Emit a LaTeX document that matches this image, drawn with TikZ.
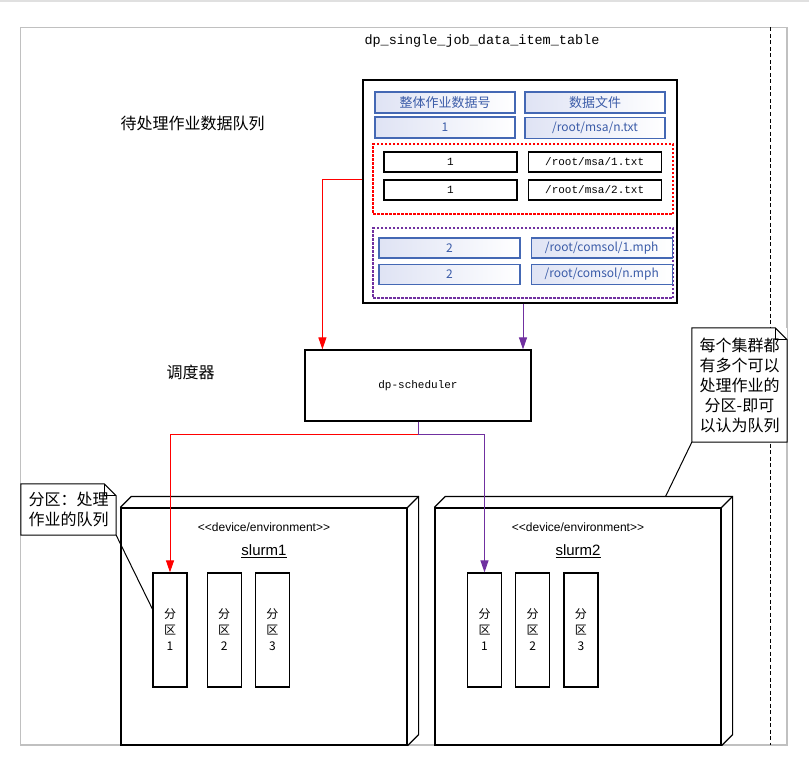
\documentclass[tikz,border=0pt]{standalone}
\usepackage{fontspec}
\setmainfont{Noto Sans CJK SC}
\setmonofont{Liberation Mono}
\newfontfamily\devfont{Liberation Sans}
\usetikzlibrary{arrows.meta,positioning}

\definecolor{cellblue}{HTML}{4468B4}
\definecolor{celltext}{HTML}{3A5BA8}
\definecolor{cellshade}{HTML}{DFE3F4}
\definecolor{jobred}{HTML}{FF0000}
\definecolor{jobpurple}{HTML}{7030A0}
\definecolor{framegray}{HTML}{C0C0C0}

\begin{document}
\begin{tikzpicture}[
		x=1pt, y=-1pt,
		node distance=13pt,
		freetext/.style={font=\fontsize{16}{20}\selectfont},
		headcell/.style={draw=cellblue, line width=1.2pt, left color=cellshade, right color=white, text=celltext, inner sep=0pt, minimum width=140pt, minimum height=21pt, font=\fontsize{12}{15}\selectfont},
		itemcell/.style={draw, line width=1.2pt, fill=white, inner sep=0pt, minimum width=133pt, minimum height=20pt, font=\ttfamily\fontsize{11}{13}\selectfont},
		group/.style={draw, line width=1.1pt, dash pattern=on 2.5pt off 1.5pt, inner sep=0pt, minimum width=300pt, minimum height=70pt},
		block/.style={draw, line width=1.2pt, inner sep=0pt},
		slurmbox/.style={draw, line width=1.2pt, inner sep=0pt, minimum width=286pt, minimum height=237pt},
		partition/.style={draw, line width=1.2pt, inner sep=0pt, minimum width=34pt, minimum height=114pt, align=center, font=\fontsize{12}{16}\selectfont},
		note/.style={fill=white, inner sep=0pt, font=\fontsize{16}{20}\selectfont},
		flow/.style={line width=1pt, -{Triangle[length=12pt,width=8pt]}},
	]
		\useasboundingbox (0,0) rectangle (809,768);
		\fill[black!12] (0,0) rectangle (809,2.5);
		\draw[framegray, line width=1.2pt] (20.5,27.5) rectangle (787,745);
		\draw[line width=1pt, dash pattern=on 4pt off 2.5pt] (770,27.5) -- (770,745);

		\node (title) at (482,41) [font=\ttfamily\fontsize{13.5}{16}\selectfont] {dp\_single\_job\_data\_item\_table};
		\node (queue label) at (117,123) [freetext, anchor=west] {待处理作业数据队列};
		\node (sched label) at (163,372) [freetext, anchor=west] {调度器};

		% data item table
		\node (table) [block, minimum width=314pt, minimum height=223pt] at (520,191.5) {};
		\node (head id) [headcell, font=\fontsize{13}{15}\selectfont] at (445,102.5) {整体作业数据号};
		\node (head file) [headcell, font=\fontsize{13}{15}\selectfont] at (595,102.5) {数据文件};
		\node (job id) [headcell] at (445,127.5) {1};
		\node (job file) [headcell] at (595,128) {/root/msa/n.txt};

		\node (redgroup) [group, draw=jobred] at (523,179) {};
		\node (red id a) [itemcell] at (450.5,162) {1};
		\node (red file a) [itemcell, right=10pt of red id a] {/root/msa/1.txt};
		\node (red id b) [itemcell] at (450.5,190) {1};
		\node (red file b) [itemcell, right=10pt of red id b] {/root/msa/2.txt};

		\node (purplegroup) [group, draw=jobpurple] at (523,263) {};
		\node (purple id a) [headcell, minimum width=141pt, minimum height=20pt] at (449.5,248) {2};
		\node (purple file a) [headcell, minimum width=141pt, minimum height=20pt, right=10pt of purple id a] {/root/comsol/1.mph};
		\node (purple id b) [headcell, minimum width=141pt, minimum height=20pt] at (449.5,274.5) {2};
		\node (purple file b) [headcell, minimum width=141pt, minimum height=20pt, right=10pt of purple id b] {/root/comsol/n.mph};

		% scheduler
		\node (sched) [block, minimum width=226pt, minimum height=71pt, font=\ttfamily\fontsize{11}{13}\selectfont] at (418,385.5) {dp-scheduler};

		% clusters
		\node (s1) [slurmbox] at (264,626.5) {};
		\draw[line width=1.2pt] (s1.north west) -- ++(11,-11) -| ([shift={(11,-11)}]s1.south east) -- (s1.south east);
		\draw[line width=1.2pt] (s1.north east) -- ++(11,-11);
		\node (s1 stereo) [below=12pt of s1.north, font=\devfont\fontsize{12}{14}\selectfont] {\textless\textless device/environment\textgreater\textgreater};
		\node (s1 name) [below=6pt of s1 stereo, font=\devfont\fontsize{15}{18}\selectfont] {\underline{slurm1}};
		\node (s1p1) [partition] at (170,630) {分\\区\\1};
		\node (s1p2) [partition, right=19pt of s1p1] {分\\区\\2};
		\node (s1p3) [partition, right=of s1p2] {分\\区\\3};

		\node (s2) [slurmbox] at (578,626.5) {};
		\draw[line width=1.2pt] (s2.north west) -- ++(11,-11) -| ([shift={(11,-11)}]s2.south east) -- (s2.south east);
		\draw[line width=1.2pt] (s2.north east) -- ++(11,-11);
		\node (s2 stereo) [below=12pt of s2.north, font=\devfont\fontsize{12}{14}\selectfont] {\textless\textless device/environment\textgreater\textgreater};
		\node (s2 name) [below=6pt of s2 stereo, font=\devfont\fontsize{15}{18}\selectfont] {\underline{slurm2}};
		\node (s2p1) [partition] at (484.5,630) {分\\区\\1};
		\node (s2p2) [partition, right=of s2p1] {分\\区\\2};
		\node (s2p3) [partition, right=of s2p2] {分\\区\\3};

		% notes
		\node (note1) [note, minimum width=95pt, minimum height=51pt, align=left] at (68.5,509.5) {分区：处理\\作业的队列};
		\draw[line width=1pt] (note1.north west) -- ([xshift=-12pt]note1.north east) -- ([yshift=-12pt]note1.north east) -- (note1.south east) -- (note1.south west) -- cycle;
		\draw[line width=1pt] ([xshift=-12pt]note1.north east) |- ([yshift=-12pt]note1.north east);
		\node (note2) [note, minimum width=95pt, minimum height=114pt, align=center] at (739.5,385) {每个集群都\\有多个可以\\处理作业的\\分区-即可\\以认为队列};
		\draw[line width=1pt] (note2.north west) -- ([xshift=-12pt]note2.north east) -- ([yshift=-12pt]note2.north east) -- (note2.south east) -- (note2.south west) -- cycle;
		\draw[line width=1pt] ([xshift=-12pt]note2.north east) |- ([yshift=-12pt]note2.north east);

		% connectors
		\coordinate (split) at ([yshift=-13pt]sched.south);
		\draw[flow, jobred] (redgroup.center -| table.west) -| ([xshift=18pt]sched.north west);
		\draw[flow, jobpurple] (purplegroup.center |- table.south) -- (purplegroup.center |- sched.north);
		\draw[flow, jobred] (sched.south) -- (split) -| (s1p1.north);
		\draw[flow, jobpurple] (sched.south) -- (split) -| (s2p1.north);
		\draw[line width=1pt] (note1.south east) -- ([yshift=21pt]s1p1.west);
		\draw[line width=1pt] (note2.south west) -- ([xshift=-56pt,yshift=11pt]s2.north east);
	\end{tikzpicture}
\end{document}
